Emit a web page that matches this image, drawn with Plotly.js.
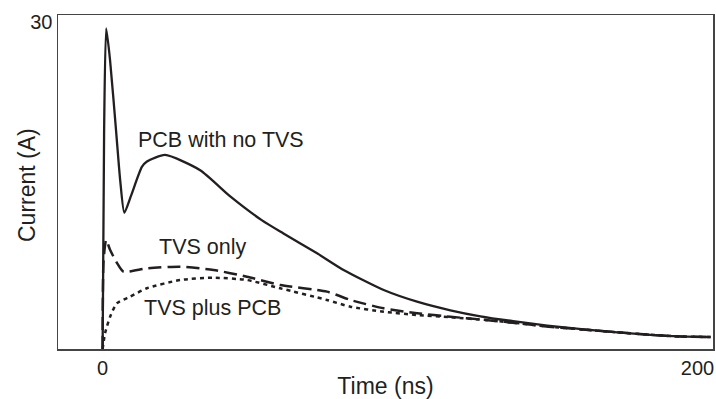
<!DOCTYPE html>
<html>
<head>
<meta charset="utf-8">
<script src="https://cdn.plot.ly/plotly-3.0.1.min.js"></script>
<style>
html,body{margin:0;padding:0;background:#fff;}
#chart{width:716px;height:399px;}
</style>
</head>
<body>
<div id="chart"></div>
<script>
// Time (ns) and current (A)
const pcbTime = [0, 0.5, 1.2, 2.5, 4.5, 5.9, 7.3, 9.6, 13.2, 14.9, 21.0, 32.8, 42.9, 53.6, 60.8, 72.1, 81.0, 94.5, 105.7, 116.9, 127.0, 138.0, 149.5, 161.0, 172.0, 183.0, 194.0, 204.4];
const pcbCurrent = [0, 20, 29.4, 26.5, 20.1, 15.5, 12.5, 14.1, 16.7, 17.2, 17.8, 16.4, 14.0, 11.8, 10.6, 8.78, 7.25, 5.41, 4.34, 3.55, 3.0, 2.55, 2.15, 1.82, 1.55, 1.32, 1.15, 1.1];

const tvsTime = [0, 0.3, 1.2, 2.5, 4.8, 7.0, 14.9, 26.1, 37.3, 48.5, 59.7, 75.4, 83.3, 94.5, 105.7, 116.9, 130.4, 140.0, 150.0, 161.0, 172.0, 183.0, 194.0, 204.4];
const tvsCurrent = [0, 8.0, 10.0, 9.1, 7.9, 7.09, 7.40, 7.55, 7.25, 6.63, 5.87, 5.26, 4.50, 3.73, 3.28, 2.96, 2.62, 2.35, 2.05, 1.8, 1.55, 1.32, 1.15, 1.1];

const tvsPcbTime = [0, 0.84, 2.52, 4.78, 9.25, 14.9, 26.1, 37.3, 48.5, 59.7, 75.4, 83.3, 94.5, 105.7, 116.9, 130.4, 140.0, 150.0, 161.0, 172.0, 183.0, 194.0, 204.4];
const tvsPcbCurrent = [0, 1.47, 2.96, 4.19, 4.80, 5.57, 6.33, 6.54, 6.33, 5.57, 4.50, 3.88, 3.42, 3.12, 2.91, 2.62, 2.35, 2.05, 1.8, 1.55, 1.32, 1.15, 1.1];

const xTicks = [0, 200];
const yTicks = [30];
const labels = ["PCB with no TVS", "TVS only", "TVS plus PCB"];

const ink = '#231f20';
const font = 'Liberation Sans, Arial, Helvetica, sans-serif';

const traces = [
  {x: pcbTime, y: pcbCurrent, mode: 'lines', name: labels[0],
   line: {color: ink, width: 2.3, shape: 'spline', smoothing: 0.6}},
  {x: tvsTime, y: tvsCurrent, mode: 'lines', name: labels[1],
   line: {color: ink, width: 2.5, dash: '13px,6px', shape: 'spline', smoothing: 0.6}},
  {x: tvsPcbTime, y: tvsPcbCurrent, mode: 'lines', name: labels[2],
   line: {color: ink, width: 2.5, dash: '4px,4px', shape: 'spline', smoothing: 0.6}}
];

const layout = {
  width: 716, height: 399,
  margin: {l: 58, r: 3, t: 15, b: 50},
  paper_bgcolor: '#fff', plot_bgcolor: '#fff',
  showlegend: false,
  font: {family: font, color: ink, size: 20},
  xaxis: {
    range: [-15.0, 205.2], tickvals: xTicks, ticktext: xTicks.map(String),
    showgrid: false, zeroline: false, showline: true, mirror: true,
    linecolor: '#444', linewidth: 1.5, ticks: '',
    tickfont: {size: 20, family: font, color: ink},
    title: {text: 'Time (ns)', font: {size: 23, family: font, color: ink}, standoff: 1}
  },
  yaxis: {
    range: [0, 30.64], tickvals: yTicks, ticktext: yTicks.map(String),
    showgrid: false, zeroline: false, showline: true, mirror: true,
    linecolor: '#444', linewidth: 1.5, ticks: '',
    tickfont: {size: 20, family: font, color: ink}
  },
  annotations: [
    {xref: 'paper', yref: 'paper', x: -0.0473, y: 0.491, text: 'Current (A)', textangle: -90,
     showarrow: false, xanchor: 'center', yanchor: 'middle', font: {size: 23, family: font, color: ink}},
    {x: 39.9, y: 19.17, text: labels[0], showarrow: false, xanchor: 'center', yanchor: 'middle', font: {size: 21.5, family: font, color: ink}},
    {x: 33.5, y: 9.39, text: labels[1], showarrow: false, xanchor: 'center', yanchor: 'middle', font: {size: 21.5, family: font, color: ink}},
    {x: 37.0, y: 3.76, text: labels[2], showarrow: false, xanchor: 'center', yanchor: 'middle', font: {size: 21.5, family: font, color: ink}}
  ]
};

Plotly.newPlot('chart', traces, layout, {displayModeBar: false, staticPlot: true});
</script>
</body>
</html>
